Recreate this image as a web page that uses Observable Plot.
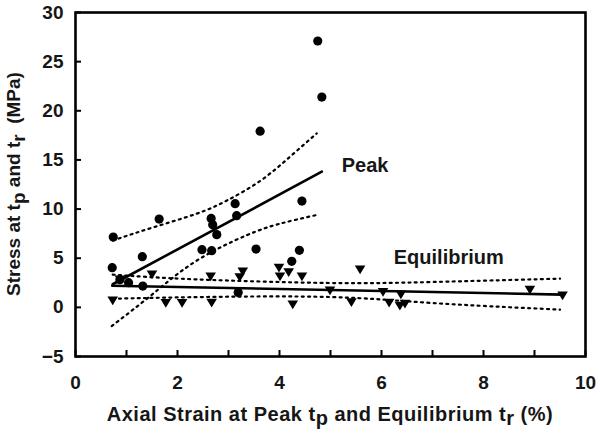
<!DOCTYPE html>
<html><head><meta charset="utf-8">
<script src="https://cdn.jsdelivr.net/npm/d3@7"></script>
<script src="https://cdn.jsdelivr.net/npm/@observablehq/plot@0.6"></script>
<style>body{margin:0;background:#fff}</style>
</head><body><div id="chart"></div>
<script>
// Peak stress (circles)
const peakX = [0.74, 0.72, 1.64, 1.31, 1.04, 1.32, 0.87, 2.48, 2.66, 2.69, 2.77, 2.67, 3.13, 3.16, 3.54, 4.44, 4.39, 4.24, 3.19, 3.62, 4.75, 4.83];
const peakY = [7.15, 4.04, 8.98, 5.16, 2.51, 2.17, 2.82, 5.87, 9.05, 8.41, 7.40, 5.77, 10.55, 9.33, 5.93, 10.81, 5.80, 4.68, 1.50, 17.93, 27.1, 21.4];
// Equilibrium stress (down triangles)
const eqX = [0.73, 0.87, 1.50, 1.77, 2.09, 2.67, 2.65, 3.28, 3.22, 3.99, 4.01, 4.18, 4.44, 4.26, 4.99, 5.58, 5.41, 6.03, 6.15, 6.38, 6.36, 6.46, 8.91, 9.55];
const eqY = [0.71, 2.85, 3.36, 0.44, 0.44, 0.48, 3.15, 3.66, 3.08, 4.04, 3.15, 3.59, 3.15, 0.31, 1.73, 3.87, 0.54, 1.56, 0.48, 1.32, 0.17, 0.38, 1.80, 1.22];
// Regression lines
const peakFitX = [0.73, 4.83];
const peakFitY = [2.35, 13.8];
const eqFitX = [0.72, 9.55];
const eqFitY = [2.2, 1.3];
// Confidence bands
const peakUpX = [0.73, 1.5, 2.36, 2.98, 3.63, 4.2, 4.73];
const peakUpY = [6.8, 8.1, 9.5, 10.9, 12.9, 15.3, 17.7];
const peakLoX = [0.71, 1.5, 2.36, 3.34, 4.0, 4.73];
const peakLoY = [-1.9, 1.3, 4.7, 7.3, 8.5, 9.4];
const eqUpX = [0.73, 2.36, 4.97, 7.0, 9.5];
const eqUpY = [3.33, 2.85, 2.48, 2.58, 2.92];
const eqLoX = [0.73, 2.5, 5.0, 7.0, 9.5];
const eqLoY = [0.88, 1.05, 1.05, 0.44, -0.23];
// Axis ticks
const xTicks = [0,1,2,3,4,5,6,7,8,9,10];
const yTicks = [-5,0,5,10,15,20,25,30];
const annotations = [{label: "Peak", x: 5.22, y: 14.4}, {label: "Equilibrium", x: 6.24, y: 5.1}];

const zip = (xs, ys) => xs.map((x, i) => ({x, y: ys[i]}));
const peak = zip(peakX, peakY), eq = zip(eqX, eqY);

const triangleDown = {draw(ctx, size) {
  const r = Math.sqrt(size / Math.PI);
  ctx.moveTo(-1.15 * r, -0.85 * r);
  ctx.lineTo(1.15 * r, -0.85 * r);
  ctx.lineTo(0, 1.05 * r);
  ctx.closePath();
}};

const FONT = "'Liberation Sans', Arial, sans-serif";
const INK = "#161616";
const dotted = {stroke: "black", strokeWidth: 2.2, strokeDasharray: "2,4.3", curve: "natural"};

const svg = Plot.plot({
  width: 600, height: 433,
  marginLeft: 75, marginRight: 15, marginTop: 12, marginBottom: 77,
  style: {fontFamily: FONT, fontSize: "19px", fontWeight: "bold", background: "white", color: "black"},
  x: {domain: [0, 10]},
  y: {domain: [-5, 30]},
  marks: [
    Plot.line(zip(peakUpX, peakUpY), {x: "x", y: "y", ...dotted}),
    Plot.line(zip(peakLoX, peakLoY), {x: "x", y: "y", ...dotted}),
    Plot.line(zip(eqUpX, eqUpY), {x: "x", y: "y", ...dotted}),
    Plot.line(zip(eqLoX, eqLoY), {x: "x", y: "y", ...dotted}),
    Plot.line(zip(peakFitX, peakFitY), {x: "x", y: "y", stroke: "black", strokeWidth: 2.6}),
    Plot.line(zip(eqFitX, eqFitY), {x: "x", y: "y", stroke: "black", strokeWidth: 2.6}),
    Plot.dot(peak, {x: "x", y: "y", r: 4.6, fill: "black", stroke: "none"}),
    Plot.dot(eq, {x: "x", y: "y", r: 4.6, symbol: triangleDown, fill: "black", stroke: "none"}),
    Plot.text(annotations, {x: "x", y: "y", text: "label", textAnchor: "start", fontSize: 20, fontWeight: "bold", fill: INK}),
    Plot.axisX({ticks: xTicks, tickSize: -6, tickPadding: 25, strokeWidth: 2, tickFormat: d => d % 2 ? "" : d, label: null, fill: INK}),
    Plot.axisY({ticks: yTicks, tickSize: -6, tickPadding: 18, strokeWidth: 2, label: null, fill: INK}),
    Plot.frame({stroke: "black", strokeWidth: 2.6})
  ]
});

const s = d3.select(svg);
// x axis label with subscripts
const xl = s.append("text").attr("x", 330).attr("y", 421).attr("text-anchor", "middle")
  .attr("font-size", 20).attr("font-weight", "bold").attr("letter-spacing", 0.5).attr("fill", INK);
xl.append("tspan").text("Axial Strain at Peak t");
xl.append("tspan").attr("dy", 4).text("p");
xl.append("tspan").attr("dy", -4).text(" and Equilibrium t");
xl.append("tspan").attr("dy", 4).text("r");
xl.append("tspan").attr("dy", -4).text(" (%)");
// y axis label with subscripts
const yl = s.append("text").attr("transform", "translate(20,184) rotate(-90)").attr("text-anchor", "middle")
  .attr("font-size", 19).attr("font-weight", "bold").attr("fill", INK);
yl.append("tspan").text("Stress at t");
yl.append("tspan").attr("dy", 5).text("p");
yl.append("tspan").attr("dy", -5).text(" and t");
yl.append("tspan").attr("dy", 5).text("r");
yl.append("tspan").attr("dy", -5).text("  (MPa)");

document.getElementById("chart").appendChild(svg);
</script>
</body></html>
